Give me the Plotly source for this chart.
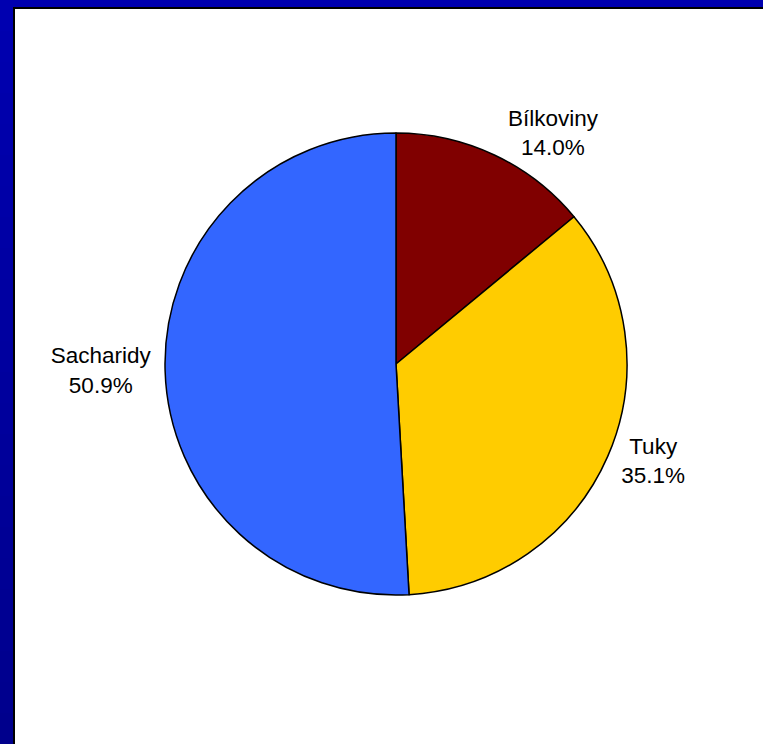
import plotly.graph_objects as go

# Energy share of macronutrients
labels = ["Bílkoviny", "Tuky", "Sacharidy"]
values = [14.0, 35.1, 50.9]
colors = ["#800000", "#FFCC00", "#3366FF"]

W, H = 763, 744
cx, cy, r = 396, 364, 231  # pie centre (from top-left) and radius, px

fig = go.Figure(
    go.Pie(
        labels=labels,
        values=values,
        sort=False,
        direction="clockwise",
        rotation=0,
        marker=dict(colors=colors, line=dict(color="black", width=1.5)),
        textposition="outside",
        texttemplate="%{label}<br>%{percent:.1%}",
        textfont=dict(family="Liberation Sans, Arial, sans-serif", size=22.5, color="black"),
        showlegend=False,
        hoverinfo="label+percent",
        domain=dict(
            x=[(cx - r) / W, (cx + r) / W],
            y=[(H - cy - r) / H, (H - cy + r) / H],
        ),
    )
)

# Blue frame, shading slightly darker toward the bottom
top_rgb = (0, 0, 0xB0)
bot_rgb = (0, 0, 0x8C)
n_bands = 24
shapes = []
for i in range(n_bands):
    t = i / (n_bands - 1)
    b = round(top_rgb[2] + (bot_rgb[2] - top_rgb[2]) * t)
    shapes.append(dict(
        type="rect", xref="paper", yref="paper", x0=0, x1=1,
        y0=1 - (i + 1) / n_bands, y1=1 - i / n_bands,
        fillcolor=f"rgb(0,0,{b})", line=dict(width=0), layer="below",
    ))
# White panel with a black edge
shapes.append(dict(
    type="rect", xref="paper", yref="paper",
    x0=14 / W, x1=1.02, y0=-0.02, y1=(H - 8) / H,
    fillcolor="white", line=dict(color="black", width=2), layer="below",
))

fig.update_layout(
    width=W,
    height=H,
    margin=dict(l=0, r=0, t=0, b=0),
    paper_bgcolor="#00009E",
    plot_bgcolor="white",
    shapes=shapes,
)

fig.write_html("out.html")
